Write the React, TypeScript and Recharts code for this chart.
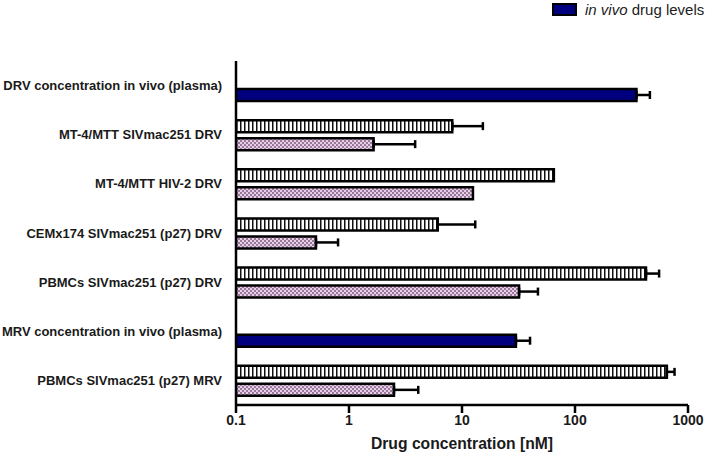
import { BarChart, Bar, XAxis, YAxis, ErrorBar, Cell } from "recharts";

const FONT = "'Liberation Sans', Arial, sans-serif";

const categories = [
  "DRV concentration in vivo (plasma)",
  "MT-4/MTT SIVmac251 DRV",
  "MT-4/MTT HIV-2 DRV",
  "CEMx174 SIVmac251 (p27) DRV",
  "PBMCs SIVmac251 (p27) DRV",
  "MRV concentration in vivo (plasma)",
  "PBMCs SIVmac251 (p27) MRV",
];

// upper bar of each group (striped), nM
const upperValues = [null, 8.2, 65, 6.1, 425, null, 650];
const upperErrors = [null, 7.1, null, 7.0, 130, null, 110];

// lower bar of each group (checkered, or solid blue for in vivo levels), nM
const lowerValues = [350, 1.65, 12.5, 0.51, 32, 30, 2.5];
const lowerErrors = [110, 2.2, null, 0.29, 15, 10, 1.6];

const inVivo = [true, false, false, false, false, true, false];

const xTicks = [0.1, 1, 10, 100, 1000];

const data = categories.map((name, i) => ({
  name,
  upper: upperValues[i],
  upperErr: upperErrors[i] == null ? null : [0, upperErrors[i]],
  lower: lowerValues[i],
  lowerErr: lowerErrors[i] == null ? null : [0, lowerErrors[i]],
}));

export default function App() {
  return (
    <div style={{ position: "absolute", left: 0, top: 0, width: 714, height: 459, background: "#fff" }}>
      <BarChart
        width={714}
        height={459}
        data={data}
        layout="vertical"
        margin={{ top: 61, right: 26, bottom: 0, left: 0 }}
        barSize={12}
        barGap={6}
      >
        <defs>
          <pattern id="stripes" patternUnits="userSpaceOnUse" width={4} height={4}>
            <rect width={4} height={4} fill="#fff" />
            <rect x={0} width={1.5} height={4} fill="#111" />
          </pattern>
          <pattern id="checks" patternUnits="userSpaceOnUse" width={4} height={4}>
            <rect width={4} height={4} fill="#e6cee6" />
            <rect x={0} y={0} width={2} height={2} fill="#9a789a" />
            <rect x={2} y={2} width={2} height={2} fill="#9a789a" />
          </pattern>
        </defs>
        <XAxis
          type="number"
          scale="log"
          domain={[0.1, 1000]}
          ticks={xTicks}
          allowDataOverflow
          height={54}
          stroke="#000"
          strokeWidth={2.5}
          tickSize={8}
          tickMargin={2}
          tick={{ fontSize: 14, fontWeight: 700, fill: "#1a1a1a", fontFamily: FONT }}
          label={{
            value: "Drug concentration [nM]",
            position: "insideBottom",
            offset: 10,
            fontSize: 15.7,
            fontWeight: 700,
            fill: "#1a1a1a",
            fontFamily: FONT,
          }}
        />
        <YAxis
          type="category"
          dataKey="name"
          width={236}
          interval={0}
          stroke="#000"
          strokeWidth={2.5}
          tickLine={false}
          tickSize={8}
          tickMargin={6}
          tick={{ fontSize: 13, fontWeight: 700, fill: "#1a1a1a", fontFamily: FONT }}
        />
        <Bar dataKey="upper" fill="url(#stripes)" stroke="#000" strokeWidth={2.5} isAnimationActive={false}>
          <ErrorBar dataKey="upperErr" direction="x" width={4} stroke="#000" strokeWidth={2.5} />
        </Bar>
        <Bar dataKey="lower" stroke="#000" strokeWidth={2.5} isAnimationActive={false}>
          {data.map((d, i) => (
            <Cell key={d.name} fill={inVivo[i] ? "#00007f" : "url(#checks)"} />
          ))}
          <ErrorBar dataKey="lowerErr" direction="x" width={4} stroke="#000" strokeWidth={2.5} />
        </Bar>
      </BarChart>
      <div
        style={{
          position: "absolute",
          left: 552,
          top: 1,
          display: "flex",
          alignItems: "center",
          fontFamily: FONT,
          fontSize: 15,
          color: "#222",
          whiteSpace: "nowrap",
        }}
      >
        <span
          style={{
            display: "inline-block",
            width: 21,
            height: 9,
            background: "#00007f",
            border: "2px solid #000",
            marginRight: 8,
          }}
        />
        <span>
          <i>in vivo</i> drug levels
        </span>
      </div>
    </div>
  );
}
